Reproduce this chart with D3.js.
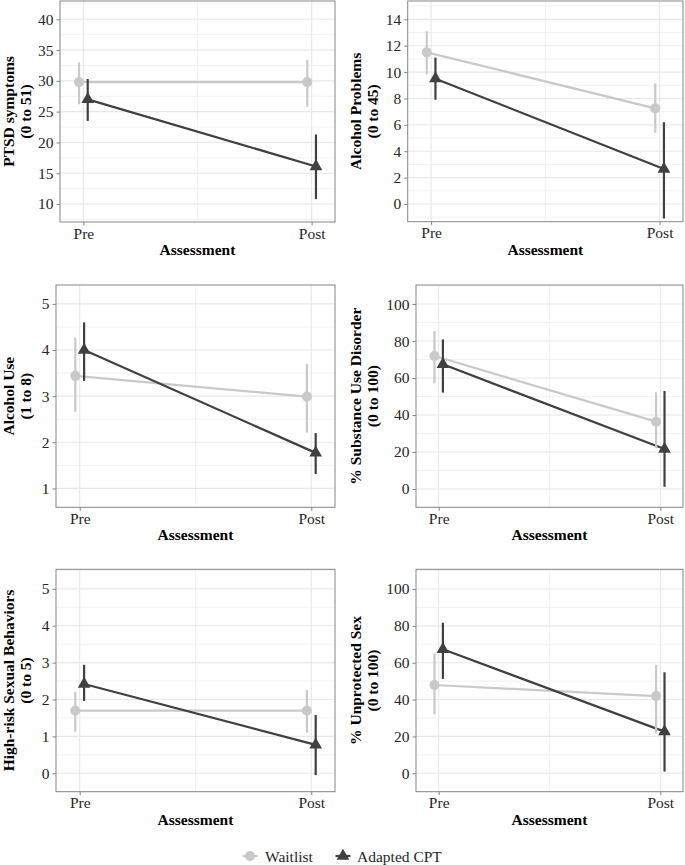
<!DOCTYPE html>
<html><head><meta charset="utf-8">
<script src="https://cdn.jsdelivr.net/npm/d3@7"></script>
<style>
html,body{margin:0;padding:0;background:#fff;}
svg{display:block;font-family:"Liberation Serif","Times New Roman",serif;}
</style></head>
<body>
<svg id="chart" width="685" height="865"></svg>
<script>
// ---------- DATA ----------
const timepoints = ["Pre", "Post"];
const groups = ["Waitlist", "Adapted CPT"];
const titleLine1 = ["PTSD symptoms", "Alcohol Problems", "Alcohol Use", "% Substance Use Disorder", "High-risk Sexual Behaviors", "% Unprotected Sex"];
const titleLine2 = ["(0 to 51)", "(0 to 45)", "(1 to 8)", "(0 to 100)", "(0 to 5)", "(0 to 100)"];
const yTickValues = [
  [10, 15, 20, 25, 30, 35, 40],
  [0, 2, 4, 6, 8, 10, 12, 14],
  [1, 2, 3, 4, 5],
  [0, 20, 40, 60, 80, 100],
  [0, 1, 2, 3, 4, 5],
  [0, 20, 40, 60, 80, 100]
];
const yDomains = [[7.08, 42.97], [-1.34, 15.39], [0.59, 5.41], [-9.9, 110.3], [-0.5, 5.53], [-10, 110.7]];
// [Pre, Post]
const waitlistMean = [[29.8, 29.8], [11.5, 7.25], [3.44, 2.99], [71.9, 36.4], [1.70, 1.70], [47.9, 41.9]];
const waitlistLow  = [[26.2, 25.8], [9.85, 5.4], [2.66, 2.21], [57.1, 22.0], [1.13, 1.10], [32.0, 21.7]];
const waitlistHigh = [[33.0, 33.4], [13.1, 9.15], [4.27, 3.70], [85.4, 52.3], [2.20, 2.26], [65.1, 58.8]];
const cptMean = [[27.0, 16.1], [9.5, 2.65], [4.0, 1.77], [67.4, 21.6], [2.42, 0.77], [67.3, 22.6]];
const cptLow  = [[23.5, 10.8], [7.9, -1.1], [3.33, 1.31], [52.1, 1.2], [1.96, -0.05], [51.2, 0.9]];
const cptHigh = [[30.3, 21.3], [11.1, 6.2], [4.6, 2.2], [80.9, 53.0], [2.94, 1.58], [81.7, 54.8]];

// ---------- LAYOUT / STYLE ----------
const panels = [
  {x0: 60, x1: 335, y0: 1, y1: 222, tx: 13.5},
  {x0: 407.7, x1: 683, y0: 1, y1: 221.7, tx: 360.5},
  {x0: 56, x1: 335, y0: 285, y1: 507.3, tx: 13.5},
  {x0: 416, x1: 683, y0: 285, y1: 507.3, tx: 360.5},
  {x0: 56, x1: 335, y0: 569.3, y1: 791.7, tx: 13.5},
  {x0: 416, x1: 683, y0: 569.3, y1: 791.7, tx: 360.5}
];
const colors = {"Waitlist": "#c9c9c9", "Adapted CPT": "#404040"};
const dodge = {"Waitlist": -0.019, "Adapted CPT": 0.019};
const FS = 15.5;
const TEXT = "#262626";

const svg = d3.select("#chart");

const seriesFor = i => [
  {g: "Waitlist", mean: waitlistMean[i], lo: waitlistLow[i], hi: waitlistHigh[i]},
  {g: "Adapted CPT", mean: cptMean[i], lo: cptLow[i], hi: cptHigh[i]}
];

panels.forEach((p, i) => {
  const x = d3.scalePoint().domain(timepoints).range([p.x0, p.x1]).padding(0.1024);
  const step = x.step();
  const xpos = (t, g) => x(t) + dodge[g] * step;
  const y = d3.scaleLinear().domain(yDomains[i]).range([p.y1, p.y0]);
  const g = svg.append("g");

  g.append("rect").attr("x", p.x0).attr("y", p.y0).attr("width", p.x1 - p.x0).attr("height", p.y1 - p.y0).attr("fill", "#fff");

  const ticks = yTickValues[i];
  const stepT = ticks[1] - ticks[0];
  const minors = [];
  for (let v = ticks[0] - stepT / 2; v <= ticks[ticks.length - 1] + stepT / 2 + 1e-9; v += stepT) minors.push(v);
  g.selectAll(".minor").data(minors.filter(v => v >= yDomains[i][0] && v <= yDomains[i][1])).join("line")
    .attr("x1", p.x0).attr("x2", p.x1).attr("y1", d => y(d)).attr("y2", d => y(d))
    .attr("stroke", "#f2f2f2").attr("stroke-width", 1);
  g.append("line").attr("x1", (x("Pre") + x("Post")) / 2).attr("x2", (x("Pre") + x("Post")) / 2)
    .attr("y1", p.y0).attr("y2", p.y1).attr("stroke", "#f2f2f2").attr("stroke-width", 1);
  g.selectAll(".major").data(ticks).join("line")
    .attr("x1", p.x0).attr("x2", p.x1).attr("y1", d => y(d)).attr("y2", d => y(d))
    .attr("stroke", "#e8e8e8").attr("stroke-width", 1.1);
  g.selectAll(".vmajor").data(timepoints).join("line")
    .attr("x1", d => x(d)).attr("x2", d => x(d)).attr("y1", p.y0).attr("y2", p.y1)
    .attr("stroke", "#e8e8e8").attr("stroke-width", 1.1);

  const series = seriesFor(i);
  const line = d3.line().x(d => d[0]).y(d => d[1]);
  series.forEach(s => {
    g.append("path")
      .attr("d", line(timepoints.map((t, k) => [xpos(t, s.g), y(s.mean[k])])))
      .attr("fill", "none").attr("stroke", colors[s.g]).attr("stroke-width", 2.2);
  });
  series.forEach(s => {
    timepoints.forEach((t, k) => {
      g.append("line").attr("x1", xpos(t, s.g)).attr("x2", xpos(t, s.g))
        .attr("y1", y(s.lo[k])).attr("y2", y(s.hi[k]))
        .attr("stroke", colors[s.g]).attr("stroke-width", 2.2);
    });
  });
  series.forEach(s => {
    const sym = s.g === "Waitlist" ? d3.symbol(d3.symbolCircle, 80) : d3.symbol(d3.symbolTriangle, 70);
    timepoints.forEach((t, k) => {
      g.append("path").attr("d", sym())
        .attr("transform", `translate(${xpos(t, s.g)},${y(s.mean[k])})`)
        .attr("fill", colors[s.g]);
    });
  });

  g.append("rect").attr("x", p.x0).attr("y", p.y0).attr("width", p.x1 - p.x0).attr("height", p.y1 - p.y0)
    .attr("fill", "none").attr("stroke", "#858585").attr("stroke-width", 1);

  const ay = g.append("g").attr("transform", `translate(${p.x0},0)`)
    .call(d3.axisLeft(y).tickValues(ticks).tickSize(3.5).tickPadding(3).tickFormat(d3.format("d")));
  ay.attr("font-family", null).attr("font-size", null);
  ay.select(".domain").remove();
  ay.selectAll(".tick line").attr("stroke", "#858585");
  ay.selectAll("text").attr("fill", TEXT).attr("font-size", FS);

  const ax = g.append("g").attr("transform", `translate(0,${p.y1})`)
    .call(d3.axisBottom(x).tickSize(3.5).tickPadding(2));
  ax.attr("font-family", null).attr("font-size", null);
  ax.select(".domain").remove();
  ax.selectAll(".tick line").attr("stroke", "#858585");
  ax.selectAll("text").attr("fill", TEXT).attr("font-size", FS);

  g.append("text").attr("x", (p.x0 + p.x1) / 2).attr("y", p.y1 + 33)
    .attr("text-anchor", "middle").attr("font-weight", "bold").attr("font-size", FS).attr("fill", "#000")
    .text("Assessment");

  const cy = (p.y0 + p.y1) / 2;
  g.append("text").attr("transform", `translate(${p.tx},${cy}) rotate(-90)`)
    .attr("text-anchor", "middle").attr("font-weight", "bold").attr("font-size", FS).attr("fill", "#000")
    .text(titleLine1[i]);
  g.append("text").attr("transform", `translate(${p.tx + 17.5},${cy}) rotate(-90)`)
    .attr("text-anchor", "middle").attr("font-weight", "bold").attr("font-size", FS).attr("fill", "#000")
    .text(titleLine2[i]);
});

const legendItems = [
  {g: groups[0], cx: 250, tx: 265},
  {g: groups[1], cx: 343, tx: 357}
];
const lg = svg.append("g");
legendItems.forEach(it => {
  lg.append("line").attr("x1", it.cx - 7.5).attr("x2", it.cx + 7.5).attr("y1", 856).attr("y2", 856)
    .attr("stroke", colors[it.g]).attr("stroke-width", 2.2);
  const sym = it.g === "Waitlist" ? d3.symbol(d3.symbolCircle, 80) : d3.symbol(d3.symbolTriangle, 70);
  lg.append("path").attr("d", sym()).attr("transform", `translate(${it.cx},856)`).attr("fill", colors[it.g]);
  lg.append("text").attr("x", it.tx).attr("y", 861.5).attr("font-size", FS).attr("fill", TEXT).text(it.g);
});
</script>
</body></html>
